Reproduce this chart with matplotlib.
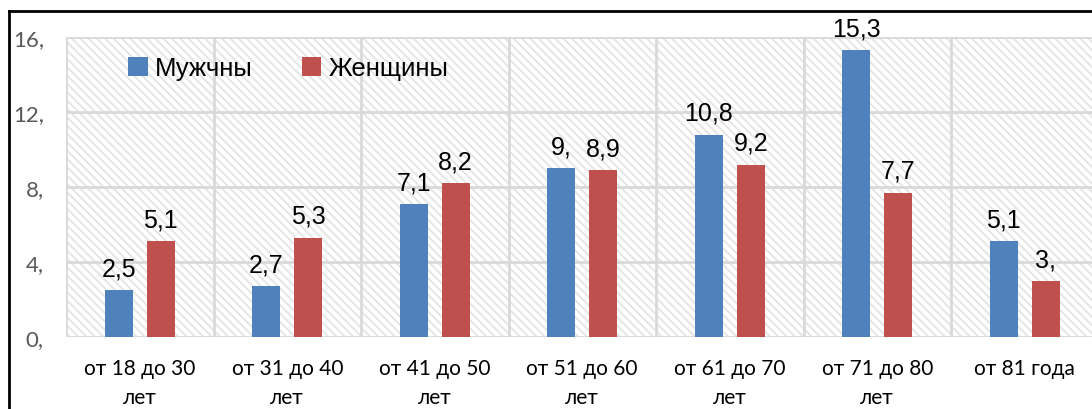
import numpy as np
import matplotlib
matplotlib.use("Agg")
import matplotlib.pyplot as plt
from matplotlib.lines import Line2D
from matplotlib.patches import Rectangle

# data
categories = ["от 18 до 30\nлет", "от 31 до 40\nлет", "от 41 до 50\nлет",
              "от 51 до 60\nлет", "от 61 до 70\nлет", "от 71 до 80\nлет",
              "от 81 года"]
men = [2.5, 2.7, 7.1, 9.0, 10.8, 15.3, 5.1]
women = [5.1, 5.3, 8.2, 8.9, 9.2, 7.7, 3.0]
yticks = [0, 4, 8, 12, 16]

blue = "#4F81BD"
red = "#C0504D"
grid_c = "#d9d9d9"

plt.rcParams["hatch.linewidth"] = 1.3


def fmt(v):
    # excel-style labels: integers keep the trailing comma
    if float(v).is_integer():
        return "%d," % v
    return ("%.1f" % v).replace(".", ",")


W, H = 1092, 410
fig = plt.figure(figsize=(W / 100, H / 100), dpi=100)
left, bottom = 66 / W, (H - 338) / H
ax = fig.add_axes([left, bottom, 7 * 147.5 / W, 300 / H])

# hatched plot area
ax.add_patch(Rectangle((0, 0), 1, 1, transform=ax.transAxes, facecolor="white",
                       edgecolor="#e4e4e4", lw=0, hatch="\\\\\\\\", zorder=0))

x = np.arange(len(categories))
off, w = 0.142, 0.19
b1 = ax.bar(x - off, men, w, color=blue, label="Мужчны", zorder=3)
b2 = ax.bar(x + off, women, w, color=red, label="Женщины", zorder=3)

for bars, vals in ((b1, men), (b2, women)):
    for b, v in zip(bars, vals):
        ax.annotate(fmt(v), (b.get_x() + b.get_width() / 2, v),
                    xytext=(0, 7), textcoords="offset points", ha="center",
                    va="bottom", fontsize=18, family="Liberation Sans",
                    color="black", zorder=4)

ax.set_xlim(-0.5, len(categories) - 0.5)
ax.set_ylim(0, 16)
ax.set_yticks(yticks)
ax.set_yticklabels([fmt(t) for t in yticks], fontsize=16, color="#595959",
                   family="Lato")
ax.set_xticks(x)
ax.set_xticklabels(categories, fontsize=15, family="Lato", linespacing=1.6)
ax.tick_params(axis="both", length=0)
ax.tick_params(axis="y", pad=16)
ax.tick_params(axis="x", pad=15)

# grid: horizontal at ticks, vertical at category boundaries
for t in yticks:
    ax.axhline(t, color=grid_c, lw=2, zorder=1)
for k in range(len(categories) + 1):
    ax.axvline(k - 0.5, color=grid_c, lw=2, zorder=1)
for s in ax.spines.values():
    s.set_visible(False)

leg = ax.legend(loc="upper left", bbox_to_anchor=(118 / W, (H - 47) / H),
                bbox_transform=fig.transFigure, ncol=2, frameon=False,
                handlelength=0.75, handleheight=0.75,
                handletextpad=0.3, columnspacing=1.9, borderaxespad=0,
                prop={"family": "Liberation Sans", "size": 18.5})

# outer chart frame (cut off at right and bottom)
fig.add_artist(Line2D([9 / W, 9 / W], [0, (H - 12) / H], color="black", lw=2))
fig.add_artist(Line2D([9 / W, 1], [(H - 12) / H, (H - 12) / H], color="black", lw=2))

fig.savefig("out.png", dpi=100)
